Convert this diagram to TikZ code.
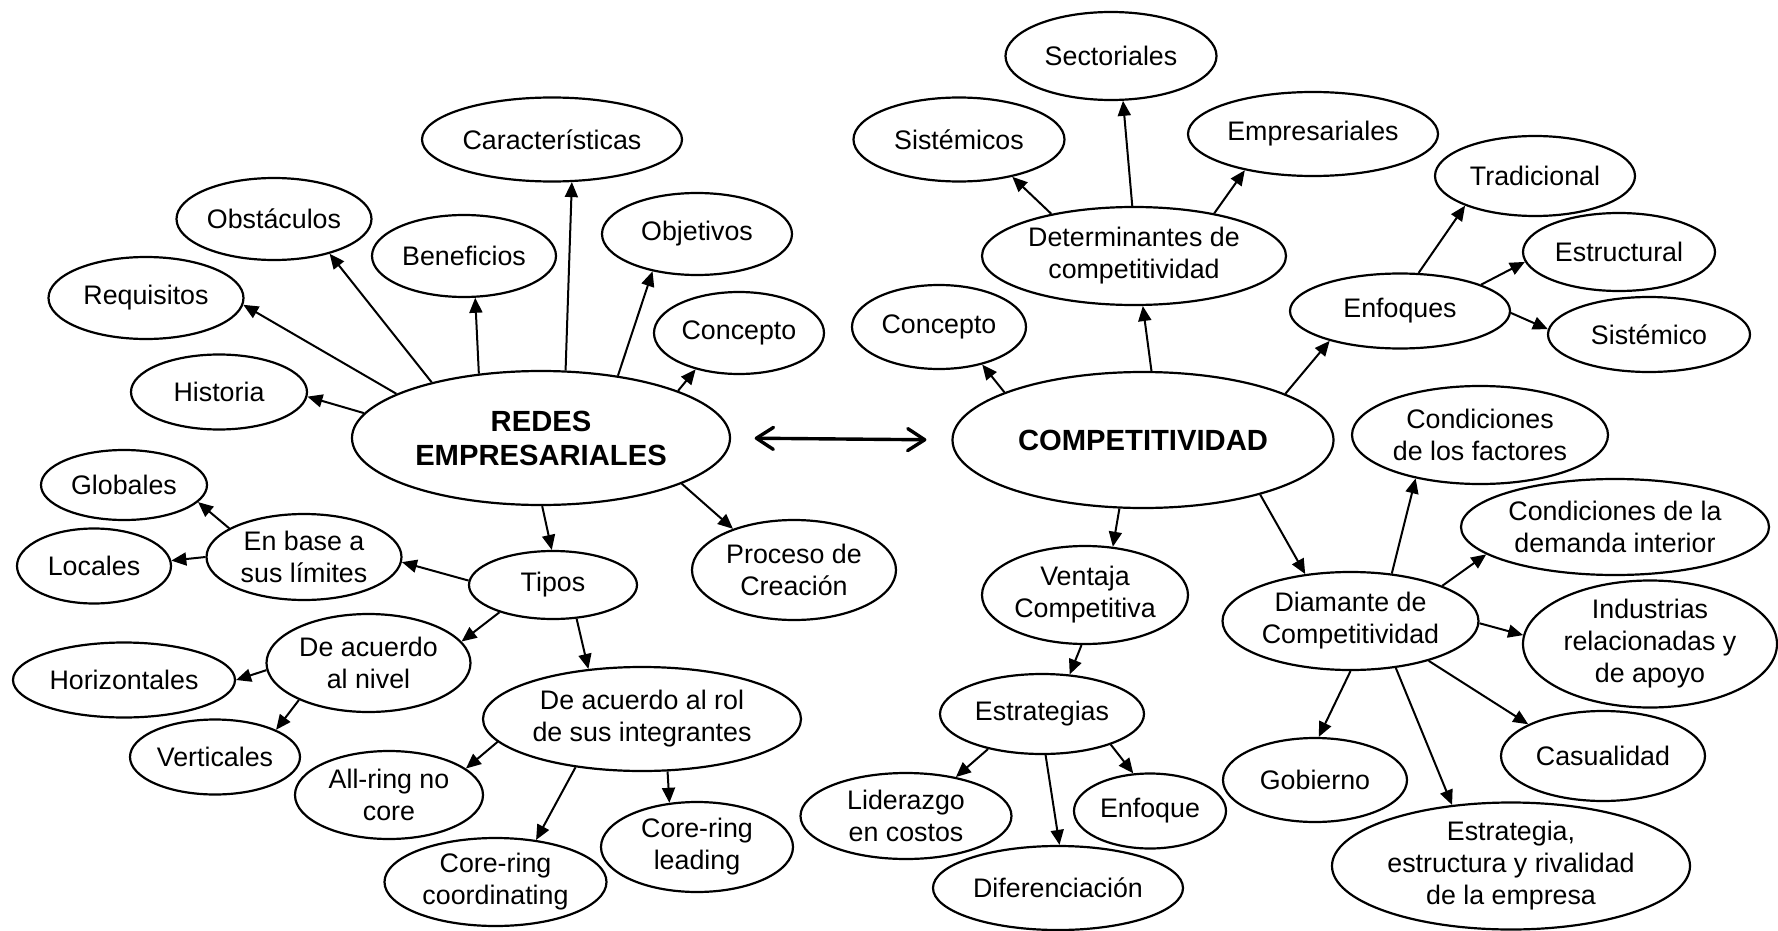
\documentclass[tikz,border=0pt]{standalone}
\usepackage{fontspec}
\setmainfont{Liberation Sans}
\usetikzlibrary{shapes.geometric,arrows.meta}
\tikzset{barb/.tip={Straight Barb[length=8.5pt,width=11pt,line cap=round,line join=round]}}
\begin{document}
\begin{tikzpicture}[x=0.5pt,y=-0.5pt,
  bub/.style={ellipse,draw,line width=1.1pt,inner sep=0pt,align=center,
    font=\fontsize{13.4pt}{16pt}\selectfont},
  hub/.style={bub,font=\fontsize{14.6pt}{17pt}\selectfont\bfseries},
  link/.style={line width=1pt,-{Triangle[length=7.5pt,width=6.5pt]}},
  dbl/.style={line width=1.7pt,barb-barb}]
\useasboundingbox (0,0) rectangle (1778,931);

% Redes empresariales
\node[hub,minimum width=189pt,minimum height=67pt] (redes) at (541,438) {REDES\\EMPRESARIALES};
\node[bub,minimum width=130pt,minimum height=42pt] (caract) at (552,139.5) {Características};
\node[bub,minimum width=97.5pt,minimum height=41pt] (obst) at (274,219) {Obstáculos};
\node[bub,minimum width=92pt,minimum height=41pt] (benef) at (464,256) {Beneficios};
\node[bub,minimum width=95pt,minimum height=41pt] (objet) at (697,234) {Objetivos};
\node[bub,minimum width=97.5pt,minimum height=41pt] (requi) at (146,298) {Requisitos};
\node[bub,minimum width=85pt,minimum height=41pt] (concL) at (739,333) {Concepto};
\node[bub,minimum width=88pt,minimum height=37.5pt] (hist) at (219,392) {Historia};
\node[bub,minimum width=83pt,minimum height=35pt] (glob) at (124,485) {Globales};
\node[bub,minimum width=77pt,minimum height=37.5pt] (loc) at (94,566) {Locales};
\node[bub,minimum width=97.5pt,minimum height=43pt] (enbase) at (304,557) {En base a\\sus límites};
\node[bub,minimum width=84pt,minimum height=34pt] (tipos) at (553,585) {Tipos};
\node[bub,minimum width=102pt,minimum height=50pt] (proceso) at (794,570) {Proceso de\\Creación};
\node[bub,minimum width=102pt,minimum height=49pt] (nivel) at (368.5,663) {De acuerdo\\al nivel};
\node[bub,minimum width=111pt,minimum height=37.5pt] (horiz) at (124,680) {Horizontales};
\node[bub,minimum width=85pt,minimum height=37.5pt] (vert) at (215,757) {Verticales};
\node[bub,minimum width=159pt,minimum height=52pt] (rol) at (642,719) {De acuerdo al rol\\de sus integrantes};
\node[bub,minimum width=94pt,minimum height=44pt] (allring) at (389,795) {All-ring no\\core};
\node[bub,minimum width=111pt,minimum height=44pt] (corecoord) at (495.5,882) {Core-ring\\coordinating};
\node[bub,minimum width=96pt,minimum height=45pt] (corelead) at (697,847) {Core-ring\\leading};

% Competitividad
\node[hub,minimum width=190.5pt,minimum height=68pt] (comp) at (1143,440) {COMPETITIVIDAD};
\node[bub,minimum width=105.5pt,minimum height=44pt] (sector) at (1111,56) {Sectoriales};
\node[bub,minimum width=105.5pt,minimum height=42pt] (sistemicos) at (959,139.5) {Sistémicos};
\node[bub,minimum width=125pt,minimum height=42pt] (empres) at (1313,134) {Empresariales};
\node[bub,minimum width=100pt,minimum height=40pt] (trad) at (1535,176) {Tradicional};
\node[bub,minimum width=96pt,minimum height=39pt] (estruct) at (1619,252) {Estructural};
\node[bub,minimum width=101pt,minimum height=37.5pt] (sistemico) at (1649,334.5) {Sistémico};
\node[bub,minimum width=152pt,minimum height=49pt] (determ) at (1134,256) {Determinantes de\\competitividad};
\node[bub,minimum width=87pt,minimum height=42pt] (concR) at (939,327) {Concepto};
\node[bub,minimum width=110pt,minimum height=37.5pt] (enfoques) at (1400,311) {Enfoques};
\node[bub,minimum width=128pt,minimum height=49pt] (condfact) at (1480,435) {Condiciones\\de los factores};
\node[bub,minimum width=154pt,minimum height=48pt] (conddem) at (1615,527) {Condiciones de la\\demanda interior};
\node[bub,minimum width=103pt,minimum height=49pt] (ventaja) at (1085,595) {Ventaja\\Competitiva};
\node[bub,minimum width=128pt,minimum height=49pt] (diamante) at (1350.5,621) {Diamante de\\Competitividad};
\node[bub,minimum width=127pt,minimum height=63.5pt] (industrias) at (1650,644) {Industrias\\relacionadas y\\de apoyo};
\node[bub,minimum width=102pt,minimum height=40pt] (estrategias) at (1042,714) {Estrategias};
\node[bub,minimum width=102pt,minimum height=45pt] (casual) at (1603,756) {Casualidad};
\node[bub,minimum width=92pt,minimum height=42pt] (gobierno) at (1315,780) {Gobierno};
\node[bub,minimum width=105.5pt,minimum height=43pt] (lider) at (906,816) {Liderazgo\\en costos};
\node[bub,minimum width=76pt,minimum height=37.5pt] (enfoque) at (1150,811) {Enfoque};
\node[bub,minimum width=125pt,minimum height=42pt] (difer) at (1058,888) {Diferenciación};
\node[bub,minimum width=179pt,minimum height=63.5pt] (estrat) at (1511,866) {Estrategia,\\estructura y rivalidad\\de la empresa};

% Two-way link between the hubs
\draw[dbl,shorten <=11.8pt,shorten >=12.5pt] (redes.east) -- (comp.west);

% Branches of redes empresariales
\draw[link] (redes.172) -- (hist.-3);
\draw[link] (redes.163) -- (requi.-4);
\draw[link] (redes.153) -- (obst.-32);
\draw[link] (redes.134) -- (benef.-75);
\draw[link] (redes.70) -- (caract.-65);
\draw[link] (redes.39) -- (objet.220);
\draw[link] (redes.19) -- (concL.220);
\draw[link] (redes.-89) -- (tipos.92);
\draw[link] (redes.-18) -- (proceso.146);
\draw[link] (tipos.177) -- (enbase.-3);
\draw[link] (tipos.207) -- (nivel.13);
\draw[link] (tipos.-55) -- (rol.137);
\draw[link] (enbase.159) -- (glob.-13);
\draw[link] (enbase.180) -- (loc.4);
\draw[link] (nivel.184) -- (horiz.0);
\draw[link] (nivel.208) -- (vert.24);
\draw[link] (rol.189) -- (allring.19);
\draw[link] (rol.216) -- (corecoord.46);
\draw[link] (rol.-64) -- (corelead.122);

% Branches of competitividad
\draw[link] (determ.153) -- (sistemicos.-35);
\draw[link] (determ.92) -- (sector.-75);
\draw[link] (determ.28) -- (empres.208);
\draw[link] (comp.161) -- (concR.-41);
\draw[link] (comp.83) -- (determ.-80);
\draw[link] (comp.18) -- (enfoques.203);
\draw[link] (enfoques.64) -- (trad.203);
\draw[link] (enfoques.18) -- (estruct.186);
\draw[link] (enfoques.-1) -- (sistemico.177);
\draw[link] (comp.-109) -- (ventaja.60);
\draw[link] (comp.-25) -- (diamante.134);
\draw[link] (diamante.49) -- (condfact.214);
\draw[link] (diamante.21) -- (conddem.192);
\draw[link] (diamante.-1) -- (industrias.176);
\draw[link] (diamante.-27) -- (casual.157);
\draw[link] (diamante.-46) -- (estrat.134);
\draw[link] (diamante.-90) -- (gobierno.85);
\draw[link] (ventaja.-94) -- (estrategias.55);
\draw[link] (estrategias.213) -- (lider.38);
\draw[link] (estrategias.-85) -- (difer.88);
\draw[link] (estrategias.-24) -- (enfoque.114);
\end{tikzpicture}
\end{document}
